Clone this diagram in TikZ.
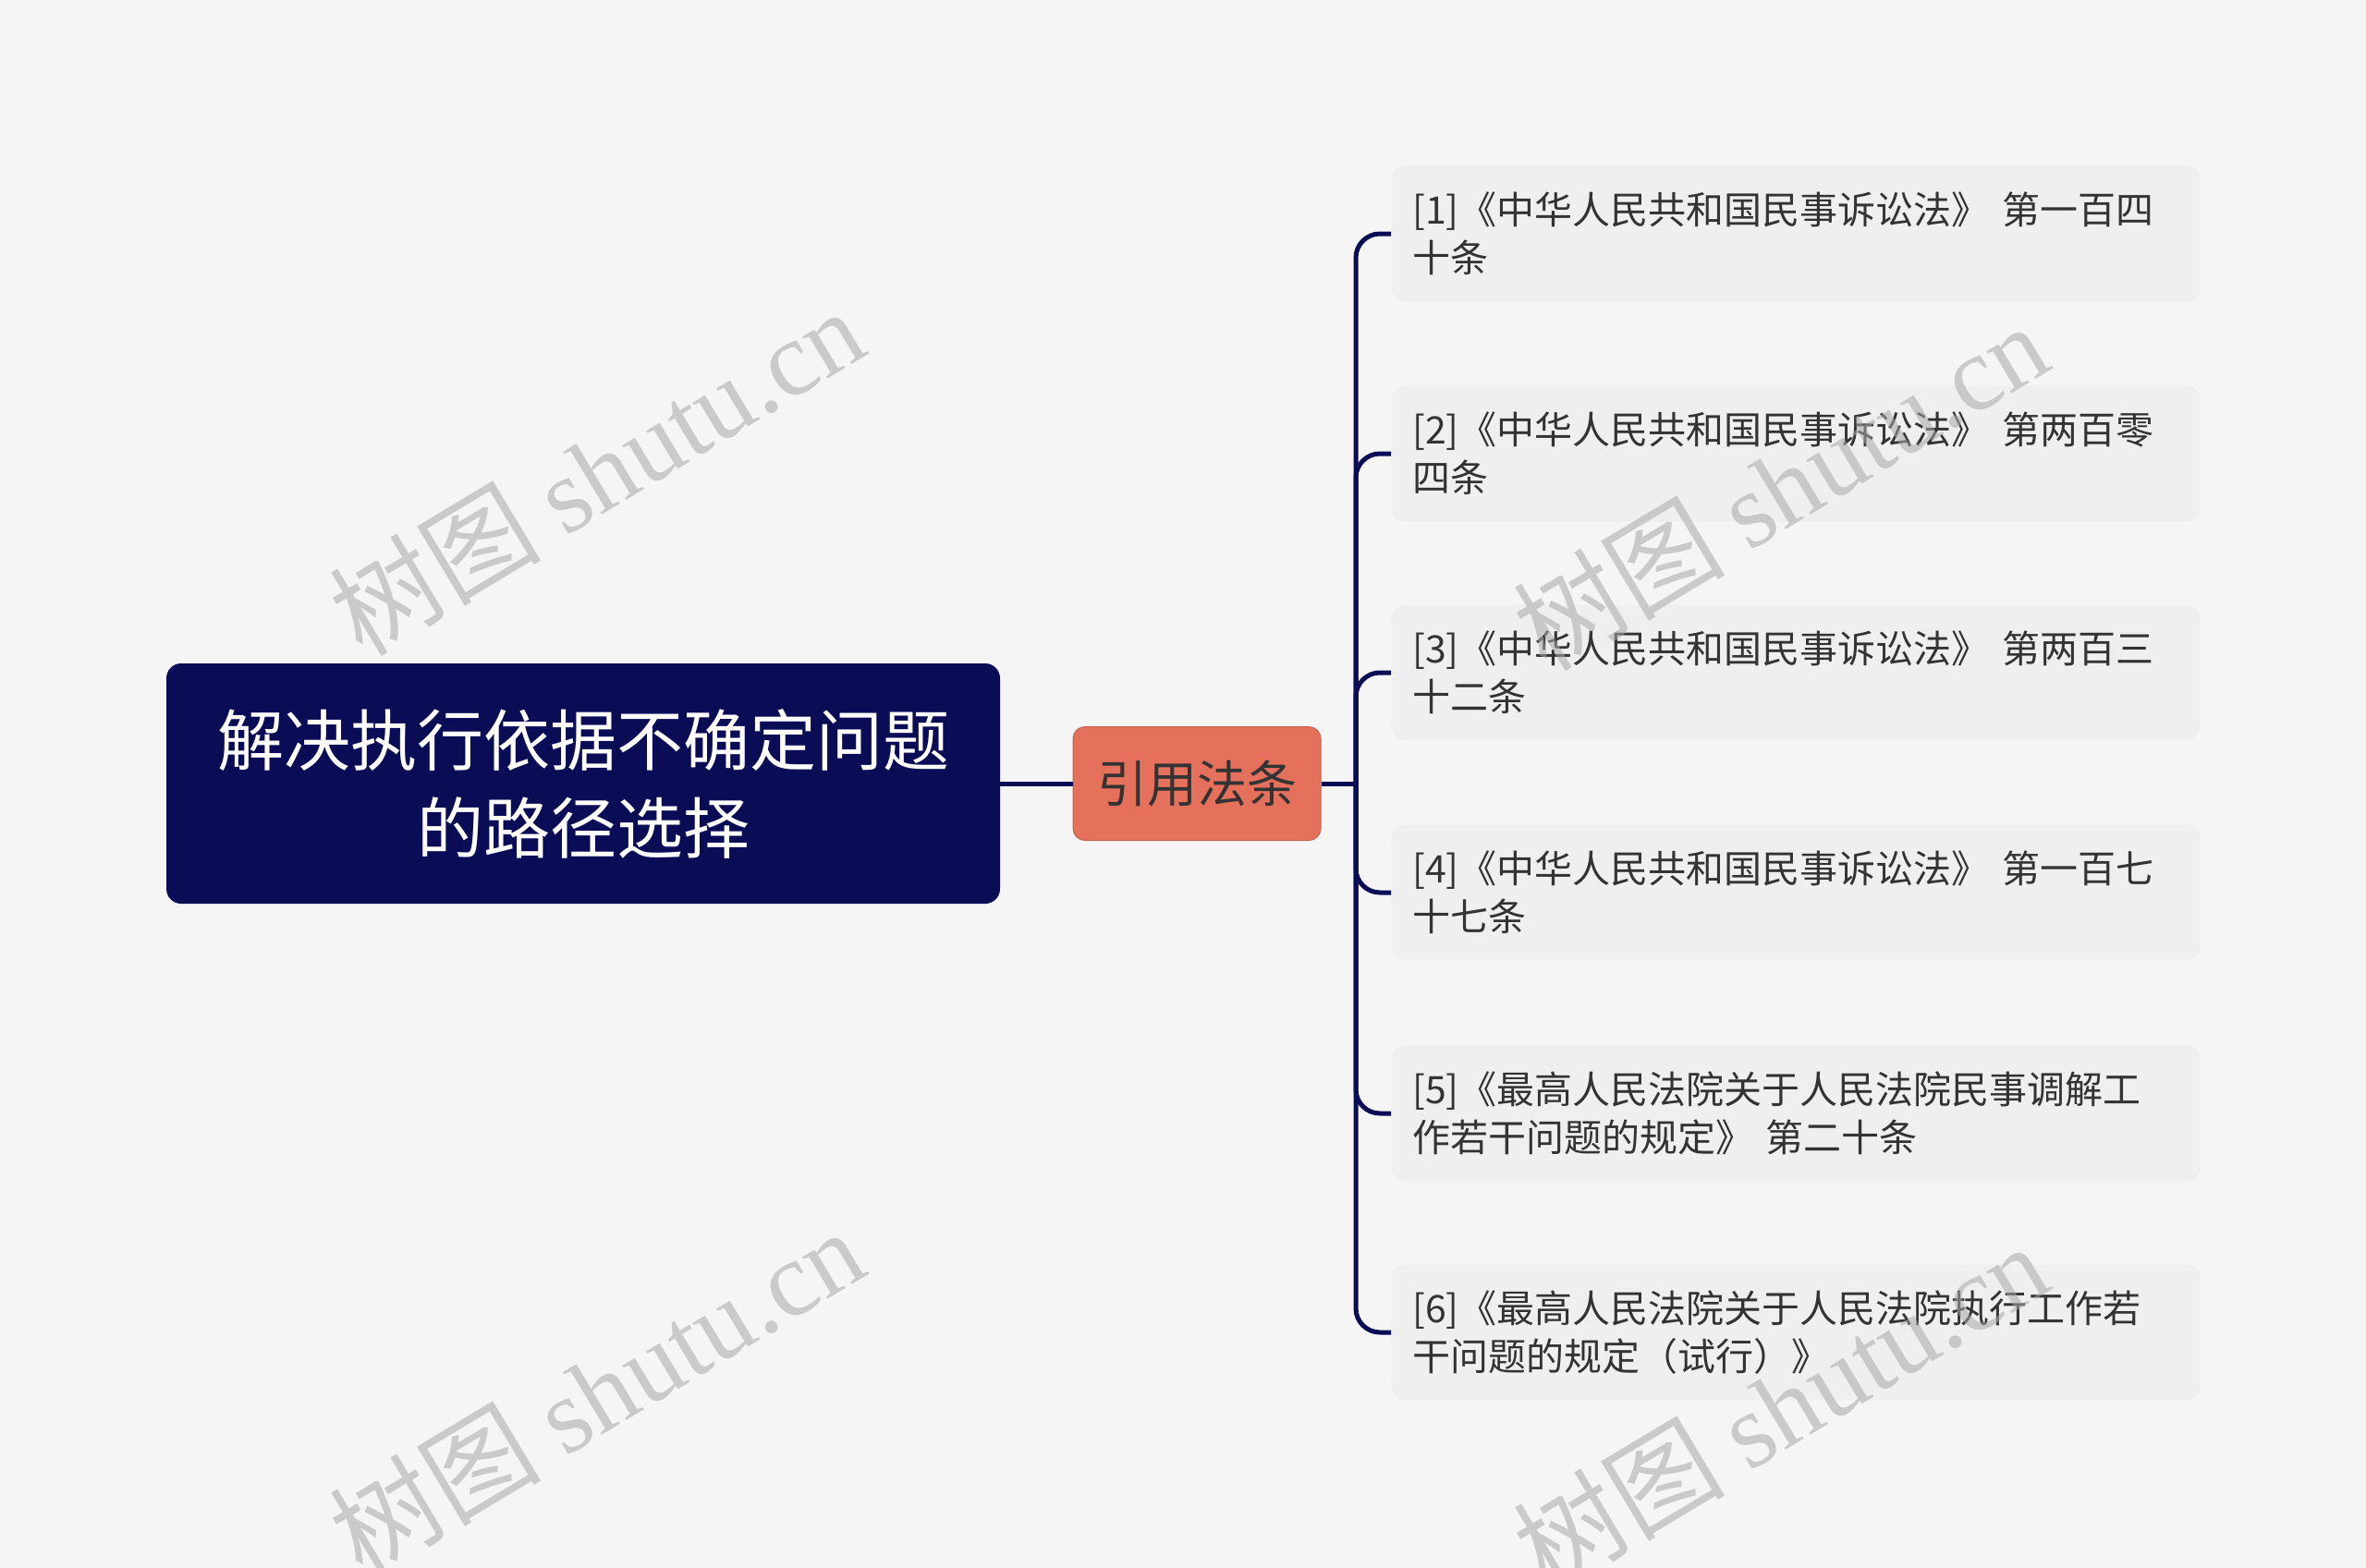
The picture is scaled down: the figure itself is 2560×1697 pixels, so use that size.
\documentclass[tikz,border=0pt]{standalone}
\usepackage{fontspec}
\setmainfont{Noto Sans CJK SC}
\newfontfamily\wmlatin{Liberation Serif}
\newfontfamily\wmcjk{Noto Sans CJK SC}
\definecolor{bgc}{HTML}{F5F5F5}
\definecolor{navy}{HTML}{0A0D56}
\definecolor{salmon}{HTML}{E5705B}
\definecolor{leaffill}{HTML}{EFEFEF}
\definecolor{txt}{HTML}{333333}
\definecolor{wmc}{HTML}{A8A8A8}
\tikzset{
  rootbox/.style={fill=navy, rounded corners=16pt, minimum width=902pt, minimum height=260pt,
    text=white, align=center, font=\fontsize{72}{95}\selectfont, inner sep=0pt},
  midbox/.style={fill=salmon, draw=salmon!85!black, line width=1pt, rounded corners=13pt,
    minimum width=268pt, minimum height=123pt, text=txt, font=\fontsize{54}{60}\selectfont, inner sep=0pt},
  leafbox/.style={fill=leaffill, rounded corners=16pt, minimum height=147pt,
    text width=850pt, inner xsep=23pt, inner ysep=0pt, align=left, text=txt,
    font=\fontsize{41}{52}\selectfont, anchor=west},
  conn/.style={draw=navy, line width=5pt},
  wmark/.style={text=wmc, text opacity=0.55, rotate=31, inner sep=0pt, font=\fontsize{115}{115}\selectfont}
}
\begin{document}
\begin{tikzpicture}[x=1pt,y=-1pt]
\useasboundingbox (0,0) rectangle (2560,1697);
\fill[bgc] (0,0) rectangle (2560,1697);

\node[rootbox] (root) at (631,848) {解决执行依据不确定问题\\的路径选择};
\node[midbox] (mid) at (1295,848) {引用法条};

\node[leafbox, text width=830pt] (l1) at (1505,253) {[1]《中华人民共和国民事诉讼法》 第一百四\\十条};
\node[leafbox, text width=830pt] (l2) at (1505,491) {[2]《中华人民共和国民事诉讼法》 第两百零\\四条};
\node[leafbox, text width=830pt] (l3) at (1505,728) {[3]《中华人民共和国民事诉讼法》 第两百三\\十二条};
\node[leafbox, text width=830pt] (l4) at (1505,966) {[4]《中华人民共和国民事诉讼法》 第一百七\\十七条};
\node[leafbox, text width=830pt] (l5) at (1505,1205) {[5]《最高人民法院关于人民法院民事调解工\\作若干问题的规定》 第二十条};
\node[leafbox, text width=830pt] (l6) at (1505,1442) {[6]《最高人民法院关于人民法院执行工作若\\干问题的规定（试行）》};

\coordinate (J) at (1467,848);
\draw[conn] (root.east) -- (mid.west);
\draw[conn] (mid.east) -- (J);
\foreach \n in {l1,l2,l3,l4,l5,l6}{
  \draw[conn, rounded corners=26pt] (J) |- (\n.west);
}

\node[wmark] (w1) at (645,510) {\wmcjk 树图 \wmlatin shutu.cn};
\node[wmark] (w2) at (1926,526) {\wmcjk 树图 \wmlatin shutu.cn};
\node[wmark] (w3) at (645,1506) {\wmcjk 树图 \wmlatin shutu.cn};
\node[wmark] (w4) at (1926,1522) {\wmcjk 树图 \wmlatin shutu.cn};
\end{tikzpicture}
\end{document}
